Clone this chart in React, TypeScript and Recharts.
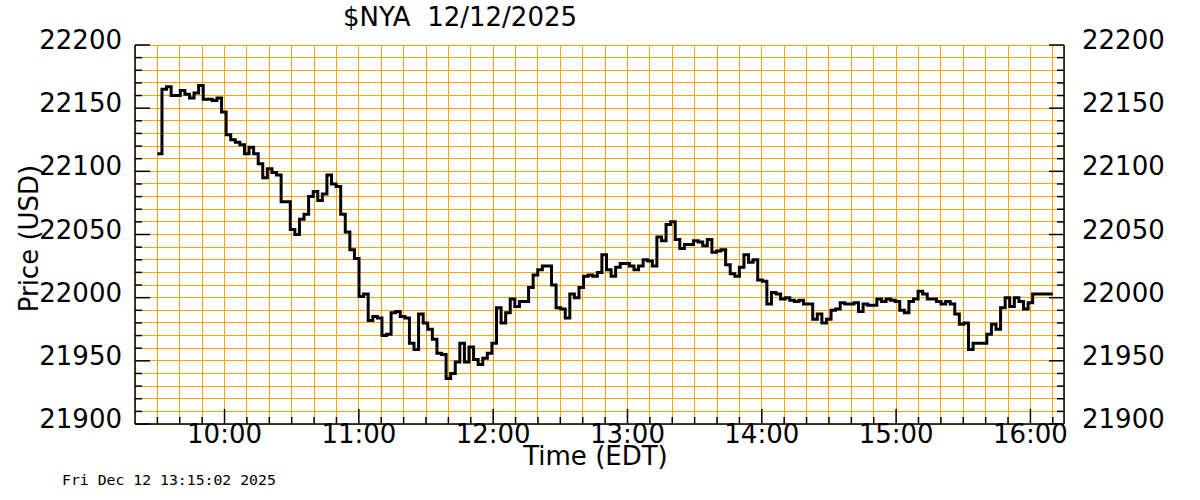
import React from 'react';
import { LineChart, Line, XAxis, YAxis, CartesianGrid } from 'recharts';

// $NYA intraday (roughly one value every 2 minutes)
const PRICES = [
  22114, 22165, 22167, 22160, 22160, 22164, 22161, 22158, 22162, 22168,
  22157, 22157, 22156, 22158, 22147, 22129, 22125, 22123, 22121, 22114,
  22119, 22114, 22106, 22095, 22102, 22099, 22097, 22076, 22076, 22054,
  22050, 22062, 22066, 22080, 22084, 22077, 22082, 22097, 22090, 22088,
  22066, 22052, 22038, 22031, 22001, 22003, 21982, 21985, 21984, 21970,
  21971, 21988, 21989, 21985, 21984, 21964, 21959, 21987, 21980, 21975,
  21967, 21956, 21955, 21936, 21940, 21949, 21964, 21949, 21961, 21951,
  21947, 21952, 21956, 21964, 21992, 21980, 21988, 21999, 21993, 21997,
  21997, 22008, 22018, 22022, 22025, 22025, 22010, 21992, 21991, 21984,
  22003, 22000, 22008, 22017, 22018, 22017, 22020, 22034, 22022, 22017,
  22024, 22027, 22027, 22025, 22022, 22025, 22030, 22029, 22025, 22048,
  22045, 22058, 22060, 22046, 22039, 22042, 22042, 22045, 22044, 22041,
  22046, 22036, 22037, 22038, 22026, 22019, 22017, 22024, 22034, 22028,
  22030, 22014, 22013, 21995, 22004, 22003, 21999, 22000, 21998, 21997,
  21998, 21995, 21995, 21983, 21987, 21980, 21983, 21990, 21991, 21996,
  21995, 21995, 21996, 21989, 21995, 21994, 21994, 21999, 21997, 21999,
  21998, 21997, 21990, 21988, 21997, 21999, 22005, 22003, 21999, 21999,
  21997, 21995, 21997, 21995, 21987, 21979, 21980, 21959, 21964, 21964,
  21964, 21971, 21979, 21975, 21992, 22000, 21993, 22000, 21997, 21991,
  21996, 22003,
];

// minutes after midnight
const FIRST_MIN = 570; // 9:30
const LAST_MIN = 961; // last print
const END_MIN = 970; // line is drawn out to 16:10
const X_DOMAIN = [560, 975];
const Y_DOMAIN = [21900, 22200];

const Y_LABELS = [21900, 21950, 22000, 22050, 22100, 22150, 22200];
const X_LABELS = ['10:00', '11:00', '12:00', '13:00', '14:00', '15:00', '16:00'];

const yTicks: number[] = [];
for (let v = Y_DOMAIN[0]; v <= Y_DOMAIN[1]; v += 10) yTicks.push(v);
const xTicks: number[] = [];
for (let m = 570; m <= 970; m += 10) xTicks.push(m);

const step = (LAST_MIN - FIRST_MIN) / (PRICES.length - 1);
const data = PRICES.map((v, i) => ({ t: FIRST_MIN + i * step, v }));
data.push({ t: END_MIN, v: PRICES[PRICES.length - 1] });

const FONT = 'DejaVu Sans, sans-serif';
const hourLabel = (m: number) => {
  const s = `${Math.floor(m / 60)}:00`;
  return X_LABELS.includes(s) && m % 60 === 0 ? s : null;
};

const LeftTick = ({ x, y, payload }: any) => {
  const major = payload.value % 50 === 0;
  return (
    <g>
      <line x1={x} x2={x + (major ? 15 : 7)} y1={y} y2={y} stroke="#000" strokeWidth={1.5} />
      {major && Y_LABELS.includes(payload.value) && (
        <text x={x - 13} y={y + 4} textAnchor="end" fontSize={26} fontFamily={FONT} fill="#000">
          {payload.value}
        </text>
      )}
    </g>
  );
};

const RightTick = ({ x, y, payload }: any) => {
  const major = payload.value % 50 === 0;
  return (
    <g>
      <line x1={x} x2={x - (major ? 15 : 7)} y1={y} y2={y} stroke="#000" strokeWidth={1.5} />
      {major && Y_LABELS.includes(payload.value) && (
        <text x={x + 18} y={y + 4} textAnchor="start" fontSize={26} fontFamily={FONT} fill="#000">
          {payload.value}
        </text>
      )}
    </g>
  );
};

const BottomTick = ({ x, y, payload }: any) => {
  const label = hourLabel(payload.value);
  return (
    <g>
      <line x1={x} x2={x} y1={y} y2={y - (label ? 15 : 7)} stroke="#000" strokeWidth={1.5} />
      {label && (
        <text x={x} y={y + 19} textAnchor="middle" fontSize={26} fontFamily={FONT} fill="#000">
          {label}
        </text>
      )}
    </g>
  );
};

const TopTick = ({ x, y, payload }: any) => {
  const major = payload.value % 60 === 0;
  return <line x1={x} x2={x} y1={y} y2={y + (major ? 15 : 7)} stroke="#000" strokeWidth={1.5} />;
};

export default function App() {
  return (
    <div style={{ position: 'absolute', left: 0, top: 0, width: 1200, height: 500, background: '#fff' }}>
      <LineChart width={1200} height={500} data={data} margin={{ top: 45, right: 0, bottom: 0, left: 0 }}>
        <CartesianGrid stroke="#FFA500" strokeWidth={1} shapeRendering="crispEdges" />
        <XAxis
          dataKey="t"
          type="number"
          domain={X_DOMAIN}
          allowDataOverflow
          ticks={xTicks}
          interval={0}
          height={76}
          tickSize={0}
          tickMargin={0}
          tickLine={false}
          axisLine={{ stroke: '#000', strokeWidth: 1.5 }}
          tick={<BottomTick />}
          label={{
            content: ({ viewBox }: any) => (
              <text x={viewBox.x + viewBox.width / 2 - 4} y={viewBox.y + 41} textAnchor="middle" fontSize={26} fontFamily={FONT} fill="#000">
                Time (EDT)
              </text>
            ),
          }}
        />
        <XAxis
          xAxisId="top"
          dataKey="t"
          type="number"
          orientation="top"
          domain={X_DOMAIN}
          allowDataOverflow
          ticks={xTicks}
          interval={0}
          height={0}
          tickSize={0}
          tickMargin={0}
          tickLine={false}
          axisLine={{ stroke: '#000', strokeWidth: 1.5 }}
          tick={<TopTick />}
        />
        <YAxis
          type="number"
          domain={Y_DOMAIN}
          allowDataOverflow
          ticks={yTicks}
          interval={0}
          width={135}
          tickSize={0}
          tickMargin={0}
          tickLine={false}
          axisLine={{ stroke: '#000', strokeWidth: 1.5 }}
          tick={<LeftTick />}
          label={{
            content: ({ viewBox }: any) => {
              const cx = 38;
              const cy = viewBox.y + viewBox.height / 2 + 4;
              return (
                <text x={cx} y={cy} transform={`rotate(-90 ${cx} ${cy})`} textAnchor="middle" fontSize={26} fontFamily={FONT} fill="#000">
                  Price (USD)
                </text>
              );
            },
          }}
        />
        <YAxis
          yAxisId="right"
          orientation="right"
          type="number"
          domain={Y_DOMAIN}
          allowDataOverflow
          ticks={yTicks}
          interval={0}
          width={136}
          tickSize={0}
          tickMargin={0}
          tickLine={false}
          axisLine={{ stroke: '#000', strokeWidth: 1.5 }}
          tick={<RightTick />}
        />
        <Line
          type="stepAfter"
          dataKey="v"
          stroke="#000"
          strokeWidth={3}
          dot={false}
          isAnimationActive={false}
        />
        <text x={343} y={26} fontSize={26} fontFamily={FONT} fill="#000" style={{ whiteSpace: 'pre' }}>
          {'$NYA  12/12/2025'}
        </text>
        <text x={62} y={485} fontSize={14.8} fontFamily="DejaVu Sans Mono, monospace" fill="#000">
          Fri Dec 12 13:15:02 2025
        </text>
      </LineChart>
    </div>
  );
}
